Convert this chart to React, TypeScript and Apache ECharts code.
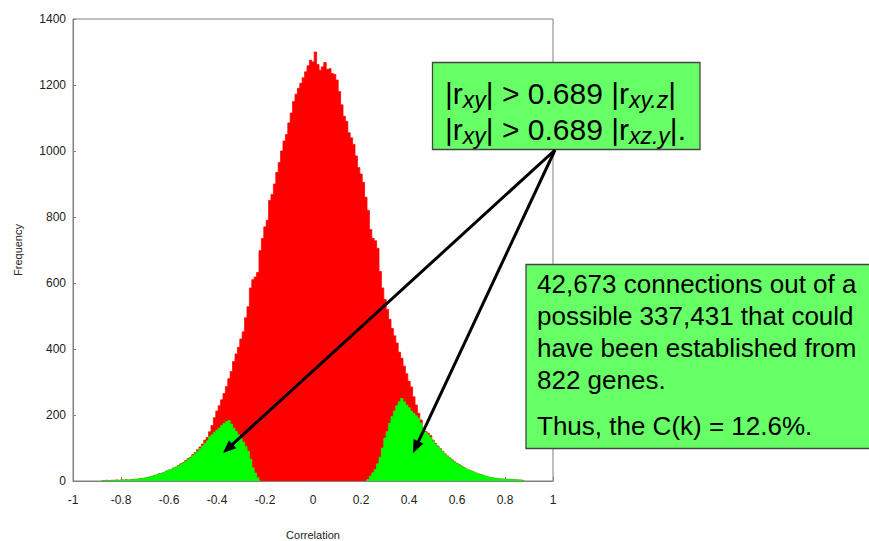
import React, { useEffect, useRef } from "react";
import * as echarts from "echarts";

// Histogram bins (width 0.01)
const BIN_WIDTH = 0.01;
const redStart = -0.88;
const redValues = [
  1, 1, 2, 1, 2, 2, 3, 2, 3, 3,
  4, 3, 4, 5, 5, 6, 7, 8, 9, 11,
  13, 14, 17, 19, 22, 24, 26, 30, 33, 35,
  39, 42, 47, 52, 56, 62, 68, 72, 80, 86,
  95, 103, 112, 124, 132, 149, 168, 192, 212, 228,
  246, 265, 286, 310, 332, 362, 385, 405, 430, 452,
  495, 528, 585, 610, 618, 632, 698, 735, 770, 790,
  850, 868, 900, 935, 965, 1000, 1030, 1050, 1085, 1115,
  1150, 1172, 1190, 1205, 1222, 1240, 1258, 1275, 1270, 1300,
  1262, 1245, 1255, 1268, 1248, 1250, 1235, 1232, 1215, 1180,
  1140, 1105, 1090, 1055, 1040, 1020, 985, 950, 930, 905,
  860, 820, 762, 735, 728, 705, 635, 585, 550, 520,
  490, 462, 440, 418, 390, 372, 348, 325, 302, 285,
  255, 230, 205, 185, 160, 150, 145, 138, 124, 114,
  106, 98, 90, 82, 76, 70, 64, 58, 53, 49,
  45, 40, 36, 33, 30, 27, 24, 21, 19, 17,
  14, 12, 10, 9, 8, 7, 6, 6, 5, 5,
  5, 4, 4, 3, 3, 2, 1,
];

const greenLeftStart = -0.88;
const greenLeftValues = [
  1, 1, 2, 1, 2, 2, 3, 2, 3, 3,
  4, 3, 4, 5, 5, 6, 7, 8, 9, 11,
  13, 14, 17, 19, 22, 24, 26, 30, 33, 35,
  39, 42, 46, 50, 55, 60, 66, 70, 77, 83,
  90, 98, 106, 114, 122, 134, 140, 148, 154, 160,
  168, 174, 180, 183, 172, 160, 150, 140, 128, 118,
  105, 90, 66, 40, 24, 10, 2,
];

const greenRightStart = 0.22;
const greenRightValues = [
  1, 5, 15, 25, 35, 52, 72, 100, 130, 150,
  175, 195, 212, 228, 240, 250, 240, 230, 222, 212,
  205, 198, 190, 175, 158, 148, 140, 132, 122, 112,
  104, 97, 89, 81, 75, 69, 63, 57, 52, 48,
  45, 40, 36, 33, 30, 27, 24, 21, 19, 17,
  14, 12, 10, 9, 8, 7, 6, 6, 5, 5,
  5, 4, 4, 3, 3, 2, 1,
];

const boxTextLines = [
  "42,673 connections out of a",
  "possible 337,431 that could",
  "have been established from",
  "822 genes.",
  "Thus, the C(k) = 12.6%.",
];

const FONT = "'Liberation Sans', Arial, Helvetica, sans-serif";

function toData(start: number, values: number[]) {
  return values.map((v, i) => [Math.round((start + i * BIN_WIDTH) * 1000) / 1000, v]);
}

function histSeries(name: string, data: number[][], color: string, z: number) {
  return {
    type: "line",
    name,
    z,
    step: "middle",
    symbol: "none",
    showSymbol: false,
    clip: true,
    data,
    lineStyle: { color, width: 0.8 },
    itemStyle: { color },
    areaStyle: { color, opacity: 1, origin: "start" },
    emphasis: { disabled: true },
  };
}

function arrow(x1: number, y1: number, x2: number, y2: number) {
  const dx = x2 - x1;
  const dy = y2 - y1;
  const len = Math.hypot(dx, dy);
  const ux = dx / len;
  const uy = dy / len;
  const headLen = 13;
  const headW = 5.5;
  const bx = x2 - ux * headLen;
  const by = y2 - uy * headLen;
  const px = -uy;
  const py = ux;
  return [
    {
      type: "line",
      z: 100,
      shape: { x1, y1, x2: bx + ux * 2, y2: by + uy * 2 },
      style: { stroke: "#000", lineWidth: 3 },
    },
    {
      type: "polygon",
      z: 100,
      shape: {
        points: [
          [x2, y2],
          [bx + px * headW, by + py * headW],
          [bx - px * headW, by - py * headW],
        ],
      },
      style: { fill: "#000" },
    },
  ];
}

const richStyles = {
  m: { fontSize: 30, fontFamily: FONT, lineHeight: 36, fill: "#000", verticalAlign: "middle" },
  s: { fontSize: 23, fontFamily: FONT, fontStyle: "italic", lineHeight: 20, fill: "#000", verticalAlign: "bottom" },
};

export default function App() {
  const ref = useRef<HTMLDivElement>(null);

  useEffect(() => {
    if (!ref.current) return;
    const chart = echarts.init(ref.current, undefined, { renderer: "svg" });

    const axisText = { fontSize: 12, fontFamily: FONT, color: "#222" };
    const nameText = { fontSize: 11, fontFamily: FONT, color: "#222" };

    const graphics: any[] = [
      {
        type: "rect",
        z: 100,
        shape: { x: 432.5, y: 62.5, width: 267.5, height: 87 },
        style: { fill: "#66ff66", stroke: "#444", lineWidth: 1.3 },
      },
      {
        type: "text",
        z: 101,
        style: {
          x: 445,
          y: 75.5,
          text: "{m||r}{s|xy}{m|| > 0.689 |r}{s|xy.z}{m||}",
          rich: richStyles,
          verticalAlign: "top",
          align: "left",
        },
      },
      {
        type: "text",
        z: 101,
        style: {
          x: 445,
          y: 111.5,
          text: "{m||r}{s|xy}{m|| > 0.689 |r}{s|xz.y}{m||.}",
          rich: richStyles,
          verticalAlign: "top",
          align: "left",
        },
      },
      {
        type: "rect",
        z: 100,
        shape: { x: 526, y: 264.5, width: 360, height: 184 },
        style: { fill: "#66ff66", stroke: "#444", lineWidth: 1.3 },
      },
      ...boxTextLines.map((t, i) => ({
        type: "text",
        z: 101,
        style: {
          x: 537,
          y: [284, 316, 348, 379.5, 426][i],
          text: t,
          fontSize: 26,
          fontFamily: FONT,
          fill: "#000",
          align: "left",
          verticalAlign: "middle",
        },
      })),
      ...arrow(555, 150, 223, 453),
      ...arrow(555, 150, 413, 453),
    ];

    chart.setOption({
      animation: false,
      backgroundColor: "#ffffff",
      grid: {
        left: 73,
        right: 316,
        top: 19,
        bottom: 60,
        show: true,
        borderColor: "#808080",
        borderWidth: 1,
        containLabel: false,
        outerBoundsMode: "none",
      },
      xAxis: {
        type: "value",
        min: -1,
        max: 1,
        interval: 0.2,
        name: "Correlation",
        nameLocation: "middle",
        nameGap: 48,
        nameTextStyle: nameText,
        axisLine: { show: true, onZero: false, lineStyle: { color: "#808080", width: 1 } },
        axisTick: { show: true, inside: true, length: 4, lineStyle: { color: "#808080" } },
        axisLabel: {
          ...axisText,
          margin: 13,
          showMinLabel: true,
          showMaxLabel: true,
          formatter: (v: number) => String(Math.round(v * 10) / 10),
        },
        splitLine: { show: false },
      },
      yAxis: {
        type: "value",
        min: 0,
        max: 1400,
        interval: 200,
        name: "Frequency",
        nameLocation: "middle",
        nameGap: 50,
        nameTextStyle: nameText,
        axisLine: { show: true, onZero: false, lineStyle: { color: "#808080", width: 1 } },
        axisTick: { show: true, inside: true, length: 3, lineStyle: { color: "#808080" } },
        axisLabel: { ...axisText, margin: 7, formatter: (v: number) => String(v) },
        splitLine: { show: false },
      },
      series: [
        histSeries("All correlations", toData(redStart, redValues), "#ff0000", 2),
        histSeries("Significant (negative)", toData(greenLeftStart, greenLeftValues), "#00ff00", 3),
        histSeries("Significant (positive)", toData(greenRightStart, greenRightValues), "#00ff00", 3),
      ],
      graphic: { elements: graphics },
    });

    return () => chart.dispose();
  }, []);

  return (
    <div
      ref={ref}
      style={{ position: "fixed", left: 0, top: 0, width: 869, height: 541, background: "#fff" }}
    />
  );
}
